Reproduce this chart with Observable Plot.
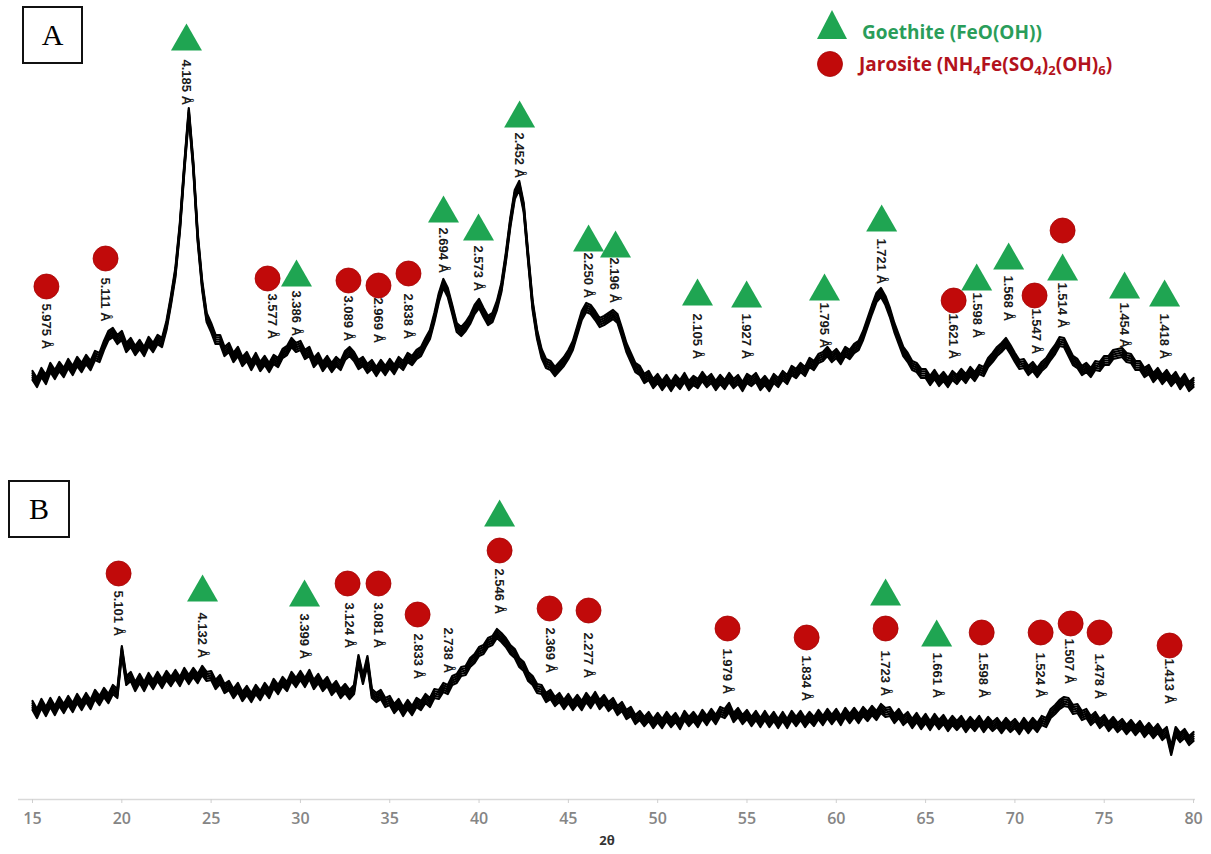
<!DOCTYPE html>
<html>
<head>
<meta charset="utf-8">
<script src="https://cdn.jsdelivr.net/npm/d3@7"></script>
<script src="https://cdn.jsdelivr.net/npm/@observablehq/plot@0.6"></script>
<style>
  html, body { margin: 0; padding: 0; background: #fff; }
  #wrap { position: relative; width: 1211px; height: 854px; overflow: hidden; }
  #wrap svg { position: absolute; left: 0; top: 0; }
  .panel { position: absolute; border: 2px solid #111; box-sizing: border-box;
           font-family: "Liberation Serif", "Times New Roman", serif; font-size: 30px;
           display: flex; align-items: center; justify-content: center; background: #fff; color: #000; }
  .leg { position: absolute; font-family: "Open Sans", Lato, sans-serif; font-weight: 700;
         font-size: 19px; line-height: 19px; white-space: nowrap; }
  .leg sub { font-size: 13px; vertical-align: -4px; line-height: 0; }
</style>
</head>
<body>
<div id="wrap"></div>
<script>
// 2θ grid of the recorded patterns (degrees)
const thetaStart = 15;
const thetaStep = 0.25;

// Pattern A intensity (a.u., stacked above pattern B), read at 0.25° steps from 15° to 80°
const intensityA = [
  422, 415, 425, 418,  430, 423, 431, 425,  434, 427, 436, 430,  438, 432, 442, 440,
  452, 462, 465, 458,  462, 450, 455, 447,  453, 446, 456, 450,  458, 455, 472, 497,
  525, 570, 630, 685,  632, 560, 512, 480,  470, 458, 458, 446,  450, 440, 446, 436,
  441, 432, 440, 431,  437, 430, 438, 435,  444, 447, 455, 450,  452, 443, 446, 435,
  440, 431, 437, 430,  436, 432, 442, 446,  441, 433, 436, 429,  433, 426, 433, 427,
  434, 428, 436, 432,  440, 437, 443, 446,  455, 463, 480, 500,  514, 505, 488, 470,
  466, 471, 478, 488,  494, 485, 477, 480,  492, 510, 540, 575,  603, 612, 590, 540,
  492, 463, 444, 434,  432, 426, 431, 436,  443, 452, 467, 482,  490, 488, 482, 475,
  477, 480, 483, 479,  465, 450, 440, 430,  427, 419, 422, 414,  419, 412, 418, 411,
  418, 413, 420, 412,  417, 414, 421, 415,  419, 412, 418, 413,  420, 414, 418, 411,
  419, 416, 420, 412,  417, 411, 419, 415,  422, 418, 427, 424,  430, 426, 435, 432,
  439, 441, 446, 440,  444, 438, 446, 443,  449, 452, 462, 475,  488, 500, 505, 497,
  485, 470, 458, 446,  440, 432, 430, 424,  424, 417, 423, 416,  421, 415, 422, 418,
  424, 419, 426, 421,  428, 426, 435, 440,  446, 450, 455, 448,  440, 433, 434, 427,
  431, 425, 431, 435,  442, 448, 456, 455,  446, 437, 434, 427,  430, 425, 432, 431,
  437, 437, 443, 444,  445, 440, 439, 432,  432, 425, 428, 420,  425, 418, 423, 416,
  421, 413, 419, 411,  415
];

// Pattern B intensity (a.u.), read at 0.25° steps from 15° to 80°
const intensityB = [
  92, 84, 94, 86,  95, 87, 96, 89,  97, 90, 99, 92,  100, 93, 103, 97,
  105, 99, 108, 104,  147, 117, 121, 111,  119, 111, 120, 113,  121, 114, 122, 116,
  123, 116, 125, 118,  125, 119, 127, 121,  122, 113, 118, 109,  112, 104, 110, 101,
  107, 100, 108, 102,  110, 104, 114, 108,  116, 111, 121, 115,  122, 115, 123, 113,
  119, 111, 116, 107,  112, 104, 109, 103,  108, 138, 118, 137,  104, 100, 103, 95,
  97, 89, 94, 86,  93, 87, 95, 92,  99, 95, 104, 103,  110, 108, 117, 119,
  126, 127, 135, 139,  146, 148, 155, 157,  164, 160, 155, 148,  144, 135, 131, 121,
  117, 109, 108, 100,  103, 96, 100, 93,  99, 92, 98, 92,  100, 94, 101, 93,
  98, 91, 95, 87,  91, 83, 86, 78,  82, 76, 81, 74,  80, 74, 81, 75,
  80, 73, 82, 76,  81, 75, 83, 77,  84, 78, 86, 84,  90, 80, 85, 78,
  83, 76, 82, 75,  82, 75, 81, 74,  81, 74, 82, 76,  82, 75, 81, 76,
  83, 77, 84, 78,  84, 77, 85, 79,  85, 79, 86, 81,  87, 82, 89, 85,
  86, 79, 84, 77,  81, 74, 80, 73,  79, 72, 79, 73,  78, 71, 77, 72,
  77, 70, 76, 71,  77, 70, 76, 71,  75, 69, 75, 70,  74, 68, 75, 69,
  75, 70, 77, 75,  84, 88, 93, 96,  95, 88, 89, 82,  84, 77, 81, 74,
  78, 71, 76, 70,  74, 68, 73, 67,  72, 65, 70, 64,  69, 62, 66, 47,
  66, 60, 64, 57,  61
];

// Phase markers: [2θ, height]
const goethiteA = [
  [23.62, 760], [29.78, 524], [38.01, 588], [39.97, 570], [42.27, 683], [46.13, 559],
  [47.64, 553], [52.23, 505], [54.98, 503], [59.34, 510], [62.54, 579], [67.86, 520],
  [69.65, 541], [72.67, 530], [76.14, 512], [78.38, 504]
];
const jarositeA = [
  [15.78, 511], [19.09, 539], [28.16, 519], [32.69, 517], [34.37, 512], [36.05, 524],
  [66.57, 497], [71.10, 502], [72.67, 567]
];
const goethiteB = [
  [24.52, 209], [30.23, 204], [41.15, 284], [62.76, 205], [65.62, 164]
];
const jarositeB = [
  [19.82, 224], [32.64, 214], [34.37, 214], [36.56, 183], [41.15, 247], [43.95, 189],
  [46.13, 187], [53.91, 169], [58.34, 160], [62.76, 169], [68.14, 165], [71.44, 165],
  [73.12, 174], [74.74, 165], [78.66, 152]
];

// d-spacing labels: [text, 2θ, top of label]
const labelsA = [
  ["5.975 Å", 15.78, 494], ["5.111 Å", 19.09, 520], ["4.185 Å", 23.62, 738],
  ["3.577 Å", 28.44, 504], ["3.386 Å", 29.78, 507], ["3.089 Å", 32.69, 502],
  ["2.969 Å", 34.37, 500], ["2.838 Å", 36.05, 504], ["2.694 Å", 38.01, 570],
  ["2.573 Å", 39.97, 552], ["2.452 Å", 42.27, 665], ["2.250 Å", 46.13, 545],
  ["2.196 Å", 47.59, 540], ["2.105 Å", 52.23, 484], ["1.927 Å", 54.98, 484],
  ["1.795 Å", 59.34, 495], ["1.721 Å", 62.54, 559], ["1.621 Å", 66.57, 484],
  ["1.598 Å", 67.86, 505], ["1.568 Å", 69.65, 522], ["1.547 Å", 71.21, 489],
  ["1.514 Å", 72.67, 515], ["1.454 Å", 76.14, 495], ["1.418 Å", 78.38, 484]
];
const labelsB = [
  ["5.101 Å", 19.82, 207], ["4.132 Å", 24.52, 185], ["3.399 Å", 30.23, 184],
  ["3.124 Å", 32.75, 195], ["3.081 Å", 34.37, 195], ["2.833 Å", 36.61, 164],
  ["2.738 Å", 38.29, 170], ["2.546 Å", 41.15, 229], ["2.369 Å", 44.00, 170],
  ["2.277 Å", 46.13, 165], ["1.979 Å", 53.91, 149], ["1.834 Å", 58.34, 142],
  ["1.723 Å", 62.76, 147], ["1.661 Å", 65.62, 145], ["1.598 Å", 68.25, 145],
  ["1.524 Å", 71.44, 145], ["1.507 Å", 73.06, 159], ["1.478 Å", 74.74, 144],
  ["1.413 Å", 78.66, 139]
];

const xTicks = [15, 20, 25, 30, 35, 40, 45, 50, 55, 60, 65, 70, 75, 80];

const thetaGrid = intensityA.map((_, i) => thetaStart + i * thetaStep);
const traceA = thetaGrid.map((t, i) => ({theta: t, I: intensityA[i]}));
const traceB = thetaGrid.map((t, i) => ({theta: t, I: intensityB[i]}));

const green = "#1fa552";
const red = "#c10a0a";
const labelFont = "'Liberation Sans', Arial, sans-serif";

const textOpts = {
  x: d => d[1], y: d => d[2], text: d => d[0],
  rotate: 90, textAnchor: "start", lineAnchor: "middle",
  fontSize: 13, fontWeight: "bold", fontFamily: labelFont, fill: "#1a1a1a"
};
const triOpts = {x: d => d[0], y: d => d[1], symbol: "triangle", r: 11.5, fill: green, dy: 4};
const dotOpts = {x: d => d[0], y: d => d[1], r: 12.5, fill: red, stroke: "#a50000", strokeWidth: 0.8};

// the recorded trace is a noisy band: draw it as a vertical brush (stacked strokes)
const brush = [-4.5, -2.25, 0, 2.25, 4.5];
const traceMarks = trace => brush.map(off =>
  Plot.line(trace, {x: "theta", y: "I", stroke: "#000", strokeWidth: 2.2, dy: off}));

const chart = Plot.plot({
  width: 1211,
  height: 854,
  marginLeft: 18,
  marginRight: 16,
  marginTop: 0,
  marginBottom: 55,
  style: {background: "#fff", overflow: "visible"},
  x: {domain: [14.216, 80.11]},
  y: {domain: [-2, 797], axis: null},
  marks: [
    Plot.ruleY([-2], {stroke: "#d9d9d9", strokeWidth: 1.5}),
    Plot.axisX(xTicks, {tickSize: 4, tickPadding: 9, stroke: "#cfcfcf", fill: "#858585",
      fontSize: 16, fontWeight: 600, fontFamily: "'Open Sans', sans-serif", label: null}),
    Plot.text(["2θ"], {frameAnchor: "bottom", dy: 45, fontSize: 13, fontWeight: "bold",
      fill: "#333", fontFamily: "'Open Sans', sans-serif"}),
    ...traceMarks(traceA),
    ...traceMarks(traceB),
    Plot.text(labelsA, textOpts),
    Plot.text(labelsB, textOpts),
    Plot.dot(jarositeA, dotOpts),
    Plot.dot(jarositeB, dotOpts),
    Plot.dot(goethiteA, triOpts),
    Plot.dot(goethiteB, triOpts)
  ]
});

const wrap = document.getElementById("wrap");
wrap.appendChild(chart);

// Panel tags
const boxA = document.createElement("div");
boxA.className = "panel";
Object.assign(boxA.style, {left: "22px", top: "6px", width: "61px", height: "58px"});
boxA.textContent = "A";
wrap.appendChild(boxA);
const boxB = document.createElement("div");
boxB.className = "panel";
Object.assign(boxB.style, {left: "8px", top: "480px", width: "62px", height: "58px"});
boxB.textContent = "B";
wrap.appendChild(boxB);

// Legend
const legend = document.createElement("div");
legend.innerHTML = `
  <svg style="position:absolute;left:816px;top:9px" width="32" height="31">
    <polygon points="16,1 31,30 1,30" fill="${green}"/>
  </svg>
  <div class="leg" style="left:862px;top:23px;color:#2a9d5a">Goethite (FeO(OH))</div>
  <svg style="position:absolute;left:816px;top:50px" width="28" height="28">
    <circle cx="14" cy="14" r="12.5" fill="${red}" stroke="#a50000" stroke-width="0.8"/>
  </svg>
  <div class="leg" style="left:859px;top:55px;color:#b3121c">Jarosite (NH<sub>4</sub>Fe(SO<sub>4</sub>)<sub>2</sub>(OH)<sub>6</sub>)</div>
`;
wrap.appendChild(legend);
</script>
</body>
</html>
